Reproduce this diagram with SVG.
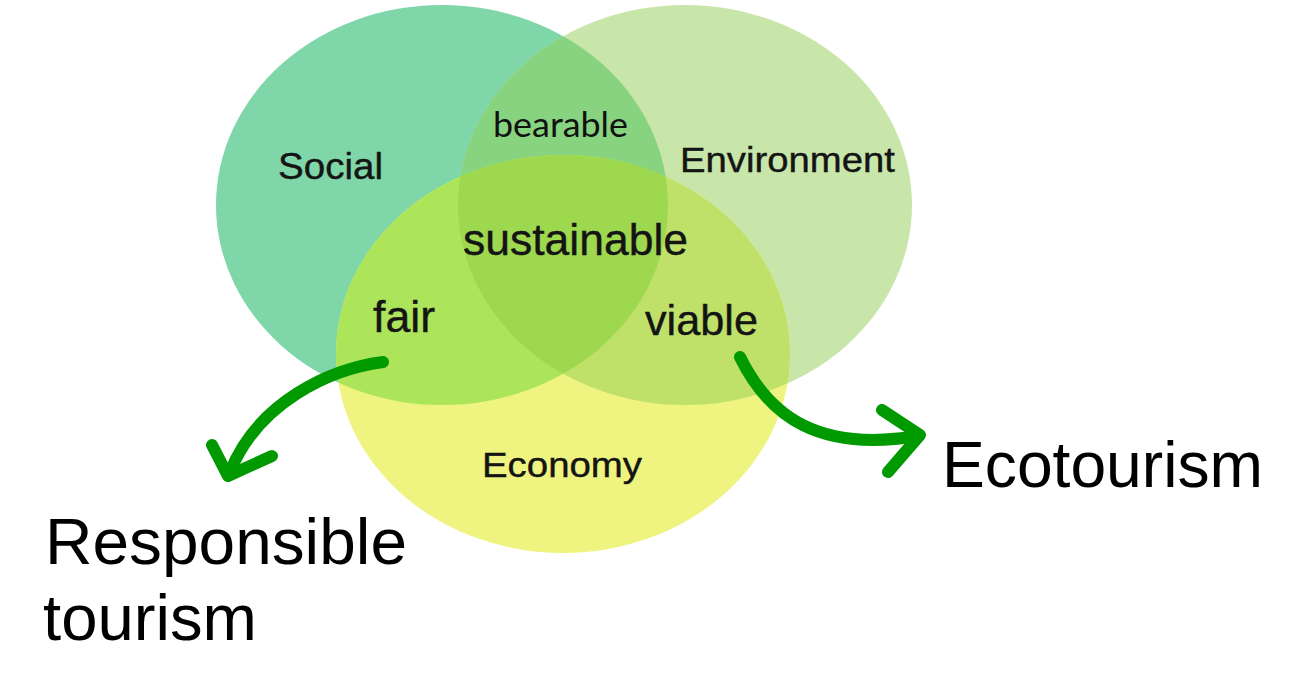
<svg xmlns="http://www.w3.org/2000/svg" width="1312" height="697" viewBox="0 0 1312 697">
  <style>
    .lbl { font-family: "Liberation Sans", Arial, sans-serif; fill: #141414; stroke: #141414; stroke-width: 0.4; }
    .big { font-family: "Liberation Sans", Arial, sans-serif; fill: #000; }
    .thin { font-family: "Lato", "Noto Sans", sans-serif; fill: #111; }
    .arrow { fill: none; stroke: #009a00; stroke-width: 12; stroke-linecap: round; stroke-linejoin: round; }
  </style>
  <defs>
    <clipPath id="cSocial"><ellipse cx="442" cy="205" rx="226" ry="200"/></clipPath>
    <clipPath id="cEnv"><ellipse cx="685" cy="205" rx="227" ry="200"/></clipPath>
    <clipPath id="cEcon"><ellipse cx="563" cy="354" rx="227" ry="199"/></clipPath>
  </defs>
  <rect width="1312" height="697" fill="#ffffff"/>

  <g id="social">
    <ellipse cx="442" cy="205" rx="226" ry="200" fill="#7fd6a9"/>
  </g>
  <g id="environment">
    <ellipse cx="685" cy="205" rx="227" ry="200" fill="#c9e6aa"/>
  </g>
  <g id="economy">
    <ellipse cx="563" cy="354" rx="227" ry="199" fill="#eef47f"/>
  </g>
  <g id="overlaps">
    <ellipse cx="685" cy="205" rx="227" ry="200" fill="#87d37f" clip-path="url(#cSocial)"/>
    <ellipse cx="563" cy="354" rx="227" ry="199" fill="#ace45a" clip-path="url(#cSocial)"/>
    <ellipse cx="563" cy="354" rx="227" ry="199" fill="#bfe16a" clip-path="url(#cEnv)"/>
    <g clip-path="url(#cSocial)">
      <ellipse cx="563" cy="354" rx="227" ry="199" fill="#9dd84f" clip-path="url(#cEnv)"/>
    </g>
  </g>

  <g id="labels">
    <text class="lbl" x="278" y="179" font-size="36" textLength="105" lengthAdjust="spacingAndGlyphs">Social</text>
    <text class="thin" x="493" y="137" font-size="35" textLength="135" lengthAdjust="spacingAndGlyphs">bearable</text>
    <text class="lbl" x="680" y="172" font-size="35" textLength="215" lengthAdjust="spacingAndGlyphs">Environment</text>
    <text class="lbl" x="463" y="255" font-size="44" textLength="225" lengthAdjust="spacingAndGlyphs">sustainable</text>
    <text class="lbl" x="373" y="332" font-size="44" textLength="62" lengthAdjust="spacingAndGlyphs">fair</text>
    <text class="lbl" x="645" y="335" font-size="43" textLength="113" lengthAdjust="spacingAndGlyphs">viable</text>
    <text class="lbl" x="482" y="477" font-size="35" textLength="160" lengthAdjust="spacingAndGlyphs">Economy</text>
  </g>

  <g id="connectors">
    <path class="arrow" d="M383,362 C330,369 258,402 230,472"/>
    <polyline class="arrow" points="212,445 228,476 272,456"/>
    <path class="arrow" d="M740,357 C770,418 820,452 918,436"/>
    <polyline class="arrow" points="882,410 920,435 888,472"/>
  </g>

  <g id="outcome-eco">
    <text class="big" x="942" y="487" font-size="64" textLength="321" lengthAdjust="spacingAndGlyphs">Ecotourism</text>
  </g>
  <g id="outcome-responsible">
    <text class="big" x="45" y="564" font-size="64" textLength="362" lengthAdjust="spacingAndGlyphs">Responsible</text>
    <text class="big" x="43" y="640" font-size="64" textLength="214" lengthAdjust="spacingAndGlyphs">tourism</text>
  </g>
</svg>
